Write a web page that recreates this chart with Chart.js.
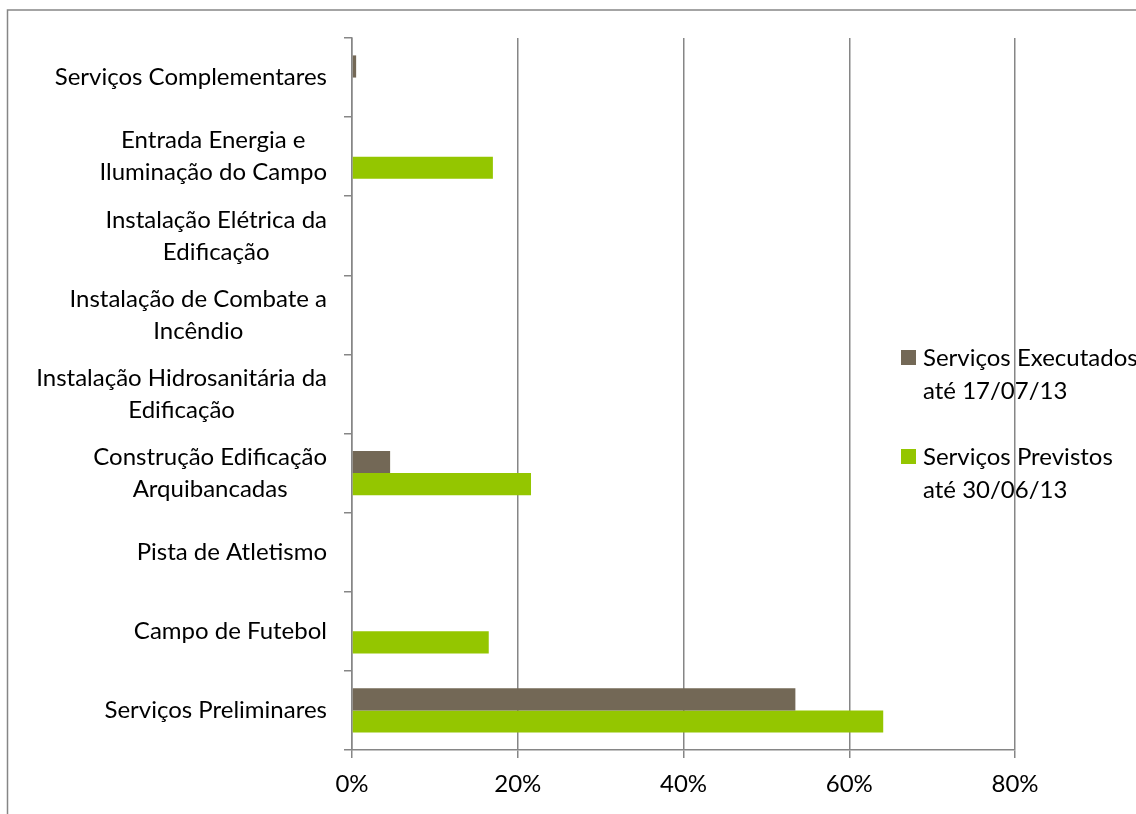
<!DOCTYPE html>
<html lang="pt">
<head>
  <meta charset="UTF-8" />
  <title>Andamento dos Serviços</title>
  <script src="https://cdn.jsdelivr.net/npm/chart.js"></script>
  <style>
    html, body { margin: 0; padding: 0; background: #fff; overflow: hidden; }
    #wrap { position: relative; width: 1136px; height: 814px; }
  </style>
</head>
<body>
  <div id="wrap">
    <canvas id="obraChart"></canvas>
  </div>

  <script>
    // etapas da obra (de cima para baixo)
    const etapas = [
      ["Serviços Complementares"],
      ["Entrada Energia e", "Iluminação do Campo"],
      ["Instalação Elétrica da", "Edificação"],
      ["Instalação de Combate a", "Incêndio"],
      ["Instalação Hidrosanitária da", "Edificação"],
      ["Construção Edificação", "Arquibancadas"],
      ["Pista de Atletismo"],
      ["Campo de Futebol"],
      ["Serviços Preliminares"]
    ];

    // percentuais
    const executados = [0.5, 0, 0, 0, 0, 4.6, 0, 0, 53.5];
    const previstos = [0, 17.0, 0, 0, 0, 21.6, 0, 16.5, 64.1];

    const legendaExecutados = ["Serviços Executados", "até 17/07/13"];
    const legendaPrevistos = ["Serviços Previstos", "até 30/06/13"];

    const corExecutados = "#736856";
    const corPrevistos = "#94c600";
    const cinza = "#868686";
    const fonte = "Lato, 'Open Sans', sans-serif";
    const tamFonte = 24;
    const entreLinhas = 32;

    // moldura externa
    const moldura = {
      id: "moldura",
      beforeDraw(chart) {
        const ctx = chart.ctx;
        ctx.save();
        ctx.strokeStyle = cinza;
        ctx.lineWidth = 1.5;
        ctx.strokeRect(7.5, 10, 1200, 900);
        ctx.restore();
      }
    };

    // rótulos do eixo vertical: bloco alinhado à direita, linhas centralizadas
    const rotulosEtapas = {
      id: "rotulosEtapas",
      afterDraw(chart) {
        const ctx = chart.ctx;
        const y = chart.scales.y;
        const direita = y.right - 25;
        ctx.save();
        ctx.font = tamFonte + "px " + fonte;
        ctx.fillStyle = "#000";
        ctx.textAlign = "center";
        ctx.textBaseline = "middle";
        etapas.forEach((linhas, i) => {
          const centro = y.getPixelForTick(i);
          const larg = Math.max(...linhas.map(l => ctx.measureText(l).width));
          const x = direita - larg / 2;
          const topo = centro - (linhas.length - 1) * entreLinhas / 2;
          linhas.forEach((l, j) => ctx.fillText(l, x, topo + j * entreLinhas));
        });
        ctx.restore();
      }
    };

    // legenda à direita com texto em duas linhas
    const legendaLateral = {
      id: "legendaLateral",
      afterDraw(chart) {
        const ctx = chart.ctx;
        ctx.save();
        ctx.font = tamFonte + "px " + fonte;
        ctx.textAlign = "left";
        ctx.textBaseline = "alphabetic";
        const itens = chart.data.datasets;
        const x0 = 901;
        const bases = [366, 465];
        itens.forEach((ds, k) => {
          const base = bases[k];
          ctx.fillStyle = ds.backgroundColor;
          ctx.fillRect(x0, base - 16, 15, 15);
          ctx.fillStyle = "#000";
          ds.label.forEach((l, j) => ctx.fillText(l, x0 + 22, base + j * 33));
        });
        ctx.restore();
      }
    };

    new Chart(document.getElementById("obraChart"), {
      type: "bar",
      data: {
        labels: etapas,
        datasets: [
          {
            label: legendaExecutados,
            data: executados,
            backgroundColor: corExecutados,
            barPercentage: 1,
            categoryPercentage: 0.56
          },
          {
            label: legendaPrevistos,
            data: previstos,
            backgroundColor: corPrevistos,
            barPercentage: 1,
            categoryPercentage: 0.56
          }
        ]
      },
      options: {
        indexAxis: "y",
        responsive: true,
        maintainAspectRatio: false,
        animation: false,
        layout: { padding: { top: 38, right: 121, left: 0, bottom: 0 } },
        plugins: {
          legend: { display: false },
          tooltip: { enabled: false }
        },
        scales: {
          x: {
            min: 0,
            max: 80,
            ticks: {
              stepSize: 20,
              color: "#000",
              padding: 12,
              font: { family: fonte, size: tamFonte },
              callback: v => v + "%"
            },
            grid: { color: cinza, lineWidth: 1.5, tickLength: 8 },
            border: { color: cinza, width: 1.5 },
            afterFit: s => { s.height = 64; }
          },
          y: {
            ticks: { display: false },
            grid: { drawOnChartArea: false, color: cinza, lineWidth: 1.5, tickLength: 8 },
            border: { color: cinza, width: 1.5 },
            afterFit: s => { s.width = 352; }
          }
        }
      },
      plugins: [moldura, rotulosEtapas, legendaLateral]
    });
  </script>
</body>
</html>
